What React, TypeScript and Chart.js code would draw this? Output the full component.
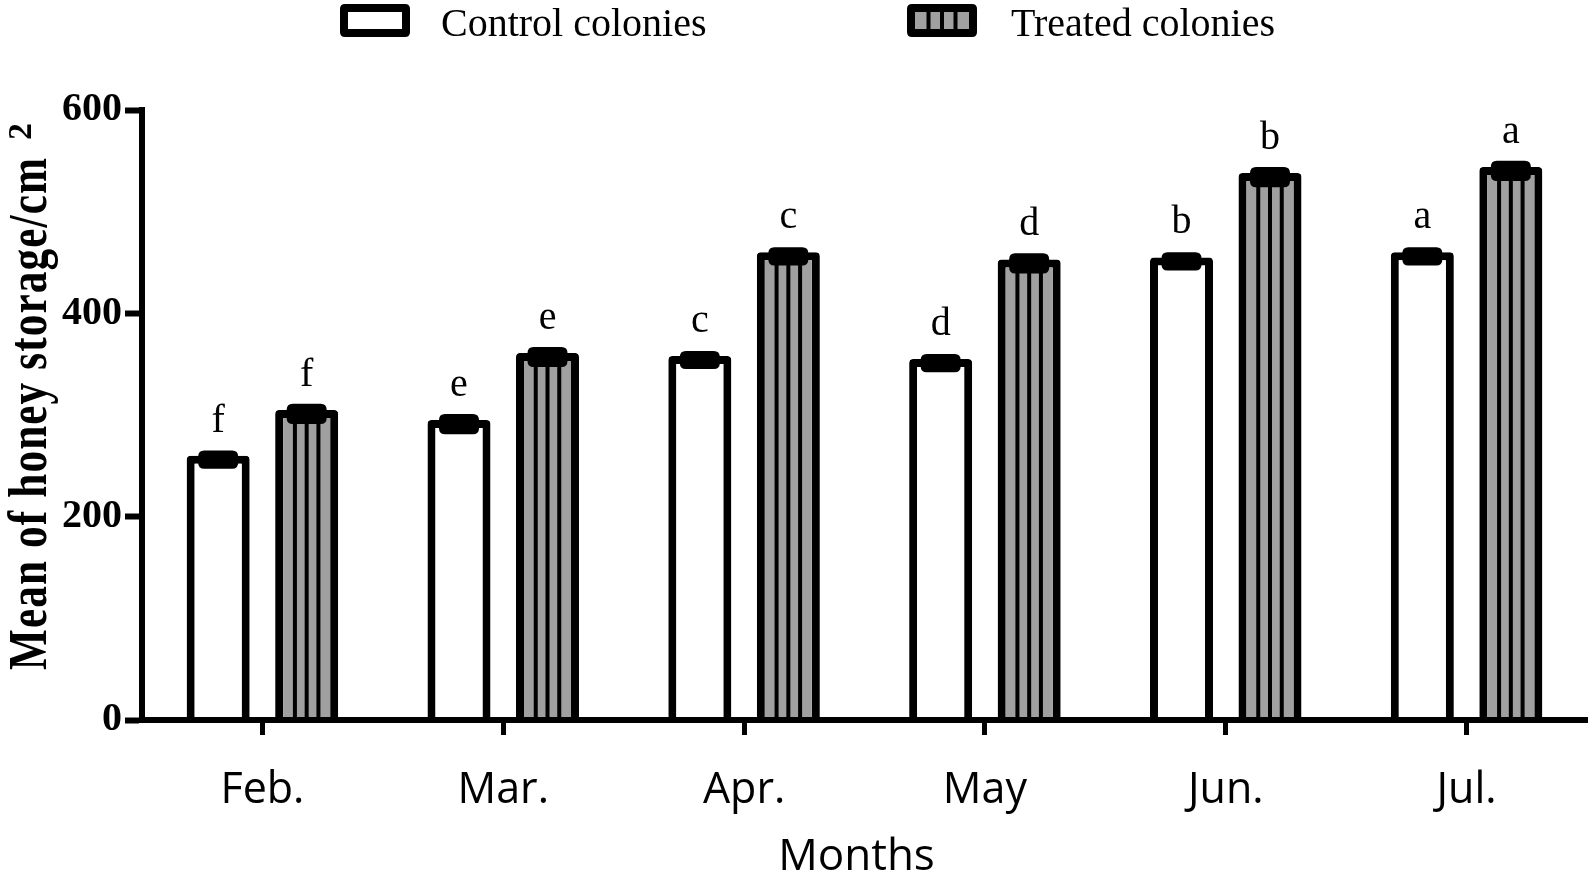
import React, { useEffect, useRef } from 'react';
import { Chart, registerables } from 'chart.js';

Chart.register(...registerables);

const months = ['Feb.', 'Mar.', 'Apr.', 'May', 'Jun.', 'Jul.'];
const controlValues = [260, 295, 358, 355, 455, 460];
const treatedValues = [305, 361, 460, 453, 538, 544];
const controlErrors = [5, 6, 5, 5, 5, 5];
const treatedErrors = [6, 6, 5, 6, 6, 6];
const controlLetters = ['f', 'e', 'c', 'd', 'b', 'a'];
const treatedLetters = ['f', 'e', 'c', 'd', 'b', 'a'];
const yTickValues = [0, 200, 400, 600];
const seriesNames = ['Control colonies', 'Treated colonies'];
const yTitleMain = 'Mean of honey storage/cm';
const yTitleSup = '2';
const xTitle = 'Months';

const GRAY = '#a0a0a0';
const BW = 8;

function roundRect(ctx: CanvasRenderingContext2D, x: number, y: number, w: number, h: number, r: number) {
  ctx.beginPath();
  ctx.moveTo(x + r, y);
  ctx.lineTo(x + w - r, y);
  ctx.quadraticCurveTo(x + w, y, x + w, y + r);
  ctx.lineTo(x + w, y + h - r);
  ctx.quadraticCurveTo(x + w, y + h, x + w - r, y + h);
  ctx.lineTo(x + r, y + h);
  ctx.quadraticCurveTo(x, y + h, x, y + h - r);
  ctx.lineTo(x, y + r);
  ctx.quadraticCurveTo(x, y, x + r, y);
  ctx.closePath();
}

const decorPlugin = {
  id: 'decor',
  afterDatasetsDraw(chart: any) {
    const ctx: CanvasRenderingContext2D = chart.ctx;
    const yScale = chart.scales.y;
    // stripes inside treated bars
    const metaT = chart.getDatasetMeta(1);
    metaT.data.forEach((bar: any) => {
      const p = bar.getProps(['x', 'y', 'base', 'width'], true);
      const left = p.x - p.width / 2 + BW;
      const right = p.x + p.width / 2 - BW;
      ctx.save();
      ctx.strokeStyle = '#000';
      ctx.lineWidth = 4;
      for (let k = 1; k < 4; k++) {
        const lx = left + ((right - left) * k) / 4;
        ctx.beginPath();
        ctx.moveTo(lx, p.y + BW);
        ctx.lineTo(lx, p.base);
        ctx.stroke();
      }
      ctx.restore();
    });
    const groups: [number[], number[], string[]][] = [
      [controlValues, controlErrors, controlLetters],
      [treatedValues, treatedErrors, treatedLetters],
    ];
    groups.forEach(([vals, errs, lets], di) => {
      const meta = chart.getDatasetMeta(di);
      meta.data.forEach((bar: any, i: number) => {
        const x = bar.x;
        const top = yScale.getPixelForValue(vals[i] + errs[i]);
        const bot = yScale.getPixelForValue(vals[i] - errs[i]) + BW;
        ctx.save();
        ctx.fillStyle = '#000';
        roundRect(ctx, x - 20, top, 40, bot - top, 6);
        ctx.fill();
        ctx.font = '40px "Liberation Serif"';
        ctx.textAlign = 'center';
        ctx.textBaseline = 'alphabetic';
        ctx.fillText(lets[i], x, yScale.getPixelForValue(vals[i]) - 24);
        ctx.restore();
      });
    });
  },
  afterDraw(chart: any) {
    const ctx: CanvasRenderingContext2D = chart.ctx;
    const area = chart.chartArea;
    ctx.save();
    // legend
    const boxes = [
      { x: 340, fill: '#ffffff', striped: false, tx: 441 },
      { x: 907, fill: GRAY, striped: true, tx: 1011 },
    ];
    boxes.forEach((b, i) => {
      const bx = b.x, by = 4, bw = 70, bh = 33;
      ctx.fillStyle = '#000';
      roundRect(ctx, bx, by, bw, bh, 5);
      ctx.fill();
      ctx.fillStyle = b.fill;
      ctx.fillRect(bx + BW, by + BW, bw - 2 * BW, bh - 2 * BW);
      if (b.striped) {
        ctx.strokeStyle = '#000';
        ctx.lineWidth = 4;
        const l = bx + BW, r = bx + bw - BW;
        for (let k = 1; k < 4; k++) {
          const lx = l + ((r - l) * k) / 4;
          ctx.beginPath();
          ctx.moveTo(lx, by + BW);
          ctx.lineTo(lx, by + bh - BW);
          ctx.stroke();
        }
      }
      ctx.fillStyle = '#000';
      ctx.font = '40px "Liberation Serif"';
      ctx.textAlign = 'left';
      ctx.textBaseline = 'alphabetic';
      ctx.fillText(seriesNames[i], b.tx, 36);
    });
    // x title
    ctx.font = '44px "Open Sans"';
    ctx.textAlign = 'center';
    ctx.textBaseline = 'alphabetic';
    ctx.fillText(xTitle, (area.left + area.right) / 2 - 8, 870);
    // y title
    ctx.translate(46, 670);
    ctx.rotate(-Math.PI / 2);
    ctx.font = 'bold 54px "Liberation Serif"';
    ctx.textAlign = 'left';
    const sx = 0.8;
    const target = 512 / sx;
    const w0 = ctx.measureText(yTitleMain).width;
    const ls = (target - w0) / (yTitleMain.length - 1);
    (ctx as any).letterSpacing = `${ls}px`;
    ctx.save();
    ctx.scale(sx, 1);
    ctx.fillText(yTitleMain, 0, 0);
    ctx.restore();
    (ctx as any).letterSpacing = '0px';
    ctx.font = 'bold 34px "Liberation Serif"';
    ctx.fillText(yTitleSup, 530, -15);
    ctx.restore();
  },
};

export default function App() {
  const ref = useRef<HTMLCanvasElement>(null);
  useEffect(() => {
    document.body.style.margin = '0';
    const chart = new Chart(ref.current as HTMLCanvasElement, {
      type: 'bar',
      data: {
        labels: months,
        datasets: [
          {
            label: seriesNames[0],
            data: controlValues,
            backgroundColor: '#ffffff',
            borderColor: '#000000',
            borderWidth: BW,
            borderSkipped: 'start',
            borderRadius: 4,
            categoryPercentage: 0.735,
            barPercentage: 0.712,
          },
          {
            label: seriesNames[1],
            data: treatedValues,
            backgroundColor: GRAY,
            borderColor: '#000000',
            borderWidth: BW,
            borderSkipped: 'start',
            borderRadius: 4,
            categoryPercentage: 0.735,
            barPercentage: 0.712,
          },
        ],
      },
      options: {
        responsive: false,
        animation: false,
        layout: { padding: { top: 110, right: 7, left: 0, bottom: 0 } },
        plugins: { legend: { display: false }, tooltip: { enabled: false } },
        scales: {
          x: {
            offset: true,
            grid: {
              drawOnChartArea: false,
              offset: false,
              tickLength: 15,
              tickWidth: 5,
              tickColor: '#000',
              color: '#000',
            },
            border: { display: true, color: '#000', width: 6, z: 1 },
            ticks: {
              color: '#000',
              padding: 30,
              font: { family: '"Open Sans"', size: 43 },
            },
            afterFit: (s: any) => {
              s.height = 150;
            },
          },
          y: {
            min: 0,
            max: 600,
            grid: {
              drawOnChartArea: false,
              tickLength: 17,
              tickWidth: 6,
              tickColor: '#000',
              color: '#000',
            },
            border: { display: true, color: '#000', width: 6, z: 1 },
            ticks: {
              color: '#000',
              padding: 3,
              font: { family: '"Liberation Serif"', size: 40, weight: 'bold' },
            },
            afterBuildTicks: (s: any) => {
              s.ticks = yTickValues.map((v) => ({ value: v }));
            },
            afterFit: (s: any) => {
              s.width = 142;
            },
          },
        },
      },
      plugins: [decorPlugin],
    } as any);
    return () => chart.destroy();
  }, []);
  return (
    <div style={{ width: 1594, height: 870 }}>
      <canvas ref={ref} width={1594} height={870} style={{ display: 'block' }} />
    </div>
  );
}
